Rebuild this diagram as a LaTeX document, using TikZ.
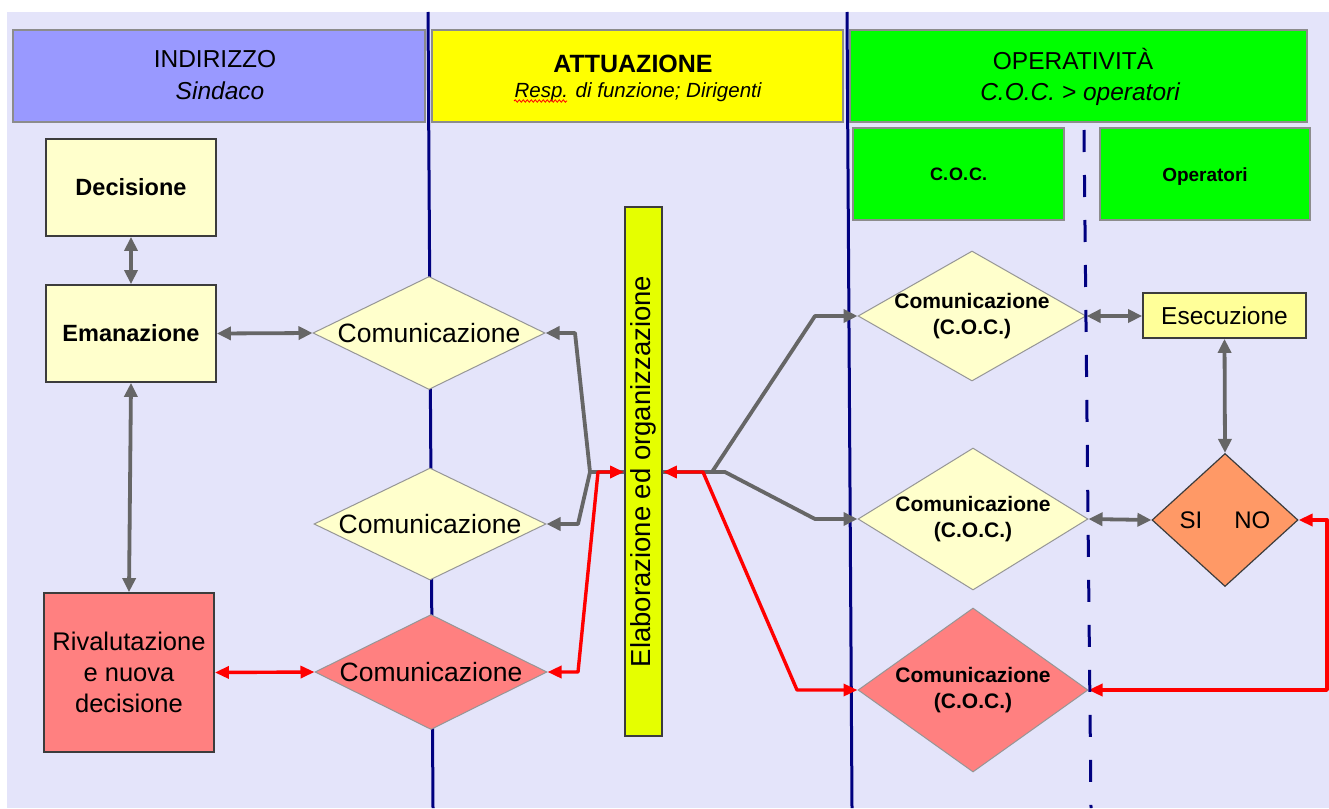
\documentclass[tikz,border=0pt]{standalone}
\usepackage{fontspec}
\setmainfont{Liberation Sans}
\usetikzlibrary{shapes.geometric,arrows.meta,decorations.pathmorphing}
\definecolor{bglav}{RGB}{228,228,250}
\definecolor{hdrblue}{RGB}{153,153,255}
\definecolor{hdryellow}{RGB}{255,255,0}
\definecolor{hdrgreen}{RGB}{0,255,0}
\definecolor{hdrborder}{RGB}{140,140,140}
\definecolor{boxyellow}{RGB}{255,255,204}
\definecolor{boxred}{RGB}{255,128,128}
\definecolor{boxborder}{RGB}{60,60,60}
\definecolor{diaborder}{RGB}{150,150,150}
\definecolor{barfill}{RGB}{229,255,0}
\definecolor{esefill}{RGB}{255,255,153}
\definecolor{sinofill}{RGB}{255,153,102}
\definecolor{lanenavy}{RGB}{0,0,128}
\definecolor{arrgray}{RGB}{102,102,102}
\definecolor{arrred}{RGB}{255,0,0}
\begin{document}
\begin{tikzpicture}[x=1pt,y=-1pt,
  hdr/.style={draw=hdrborder, line width=1.5, inner sep=0},
  hdrtext/.style={inner sep=0, anchor=base},
  box/.style={draw=boxborder, line width=1.8, inner sep=0, align=center},
  dia/.style={diamond, draw=diaborder, line width=1, inner sep=0, align=center},
  tipg/.tip={Triangle[length=14pt,width=13pt]},
  tipr/.tip={Triangle[length=14pt,width=12pt]},
  garrow/.style={draw=arrgray, line width=3.8, line join=round, -tipg},
  gdarrow/.style={draw=arrgray, line width=3.8, line join=round, tipg-tipg},
  rdarrow/.style={draw=arrred, line width=3.4, line join=round, tipr-tipr},
  lane/.style={draw=lanenavy, line width=3},
]
\useasboundingbox (0,0) rectangle (1329,808);
\fill[white] (0,0) rectangle (1329,808);
\fill[bglav] (7,12) rectangle (1329,808);

% lane separators
\draw[lane] (428,12) -- (433,808);
\draw[lane] (847,12) -- (852,808);

% headers
\node[hdr, fill=hdrblue, minimum width=412, minimum height=92] (h1) at (219,76) {};
\node[hdr, fill=hdryellow, minimum width=411, minimum height=92] (h2) at (637.5,76) {};
\node[hdr, fill=hdrgreen, minimum width=457, minimum height=92] (h3) at (1078.5,76) {};
\node[hdr, fill=hdrgreen, minimum width=211, minimum height=92] (h4) at (958.5,174) {};
\node[hdr, fill=hdrgreen, minimum width=210, minimum height=92] (h5) at (1205,174) {};

\node[hdrtext] (t1a) at (215,67) {\fontsize{24.5}{28}\selectfont INDIRIZZO};
\node[hdrtext] (t1b) at (220,99) {\fontsize{24.5}{28}\selectfont\itshape Sindaco};
\node[hdrtext] (t2a) at (633,73) {\fontsize{25}{28}\selectfont\bfseries ATTUAZIONE};
\node[hdrtext] (t2b) at (638,97) {\fontsize{20.5}{22}\selectfont\itshape Resp. di funzione; Dirigenti};
\node[hdrtext] (t3a) at (1073,70) {\fontsize{24.5}{28}\selectfont OPERATIVIT\`A};
\node[hdrtext] (t3b) at (1080,100) {\fontsize{24.5}{28}\selectfont\itshape C.O.C. > operatori};
\node[hdrtext] (t4) at (958.5,180) {\fontsize{18}{20}\selectfont\bfseries C.\kern1pt O.\kern1pt C.};
\node[hdrtext] (t5) at (1205,181) {\fontsize{19}{20}\selectfont\bfseries Operatori};
\draw[arrred, line width=0.8, decorate, decoration={snake, amplitude=1.2pt, segment length=4pt}] (514,101) -- (567,101);

% left column
\node[box, fill=boxyellow, minimum width=170, minimum height=97, font=\fontsize{23.5}{28}\selectfont\bfseries] (dec) at (131,187.5) {Decisione};
\node[box, fill=boxyellow, minimum width=170, minimum height=97, font=\fontsize{23.5}{28}\selectfont\bfseries] (ema) at (131,333.5) {Emanazione};
\node[box, fill=boxred, minimum width=170, minimum height=159, font=\fontsize{25.5}{31}\selectfont] (riv) at (129,672.5) {Rivalutazione\\e nuova\\decisione};

% middle column
\tikzset{cdia/.style={dia, aspect=2.05, inner xsep=-6pt, minimum width=232, font=\fontsize{26.5}{30}\selectfont}}
\node[cdia, fill=boxyellow, minimum height=113] (c1) at (429,333) {Comunicazione};
\node[cdia, fill=boxyellow, minimum height=112] (c2) at (430,524) {Comunicazione};
\node[cdia, fill=boxred, minimum height=115] (c3) at (431,672) {Comunicazione};

\node[draw=boxborder, line width=1.8, fill=barfill, inner sep=0, minimum width=37, minimum height=529, font=\fontsize{27.5}{30}\selectfont] (bar) at (643.5,471.5) {\rotatebox{90}{Elaborazione\ ed\ organizzazione}};

% right column
\tikzset{rdia/.style={dia, inner xsep=-14pt, font=\fontsize{21}{26}\selectfont\bfseries}}
\node[rdia, aspect=1.75, fill=boxyellow, minimum width=228, minimum height=130] (r1) at (972,316) {Comunicazione\\(C.O.C.)};
\node[rdia, aspect=1.62, fill=boxyellow, minimum width=230, minimum height=142] (r2) at (973,519) {Comunicazione\\(C.O.C.)};
\node[rdia, aspect=1.4, fill=boxred, minimum width=230, minimum height=164] (r3) at (973,690) {Comunicazione\\(C.O.C.)};

\node[box, fill=esefill, minimum width=163, minimum height=45, font=\fontsize{24.5}{28}\selectfont] (ese) at (1224.5,315.5) {Esecuzione};
\node[dia, aspect=1.1, fill=sinofill, draw=boxborder, line width=1.2, minimum width=146, minimum height=133, font=\fontsize{24}{28}\selectfont] (sino) at (1225,520) {SI\hspace{32pt}NO};

% junction coordinates
\coordinate (jl) at (590,472);
\coordinate (jl1) at (575,333);
\coordinate (jl2) at (578,524);
\coordinate (jr1) at (578,672);
\coordinate (jr2) at (598,472);
\coordinate (ka) at (712,472);
\coordinate (ka1) at (815,316);
\coordinate (kb) at (725,472);
\coordinate (kb1) at (815,519);
\coordinate (kr1) at (703,472);
\coordinate (kr2) at (797,690);
\coordinate (ne1) at (1327,520);
\coordinate (ne2) at (1327,690);

% gray connectors
\draw[gdarrow] (dec.south) -- (ema.north);
\draw[gdarrow] (ema.east) -- (c1.west);
\draw[gdarrow] (ema.south) -- (riv.north);
\draw[garrow] (bar.west |- jl) -- (jl) -- (jl1) -- (c1.east);
\draw[garrow] (bar.west |- jl) -- (jl) -- (jl2) -- (c2.east);
\draw[garrow] (bar.east |- ka) -- (ka) -- (ka1) -- (r1.west);
\draw[garrow] (bar.east |- kb) -- (kb) -- (kb1) -- (r2.west);
\draw[gdarrow] (r1.east) -- (ese.west |- r1.east);
\draw[gdarrow] (ese.south) -- (sino.north);
\draw[gdarrow] (r2.east) -- (sino.west);

% red connectors
\draw[rdarrow] (riv.east) -- (c3.west);
\draw[rdarrow] (c3.east) -- (jr1) -- (jr2) -- (bar.west |- jr2);
\draw[rdarrow] (bar.east |- kr1) -- (kr1) -- (kr2) -- (r3.west);
\draw[rdarrow] (sino.east) -- (ne1) -- (ne2) -- (r3.east);

% dashed lane separator
\draw[lane, dash pattern=on 22pt off 23pt] (1084,130) -- (1091,808);
\end{tikzpicture}
\end{document}
